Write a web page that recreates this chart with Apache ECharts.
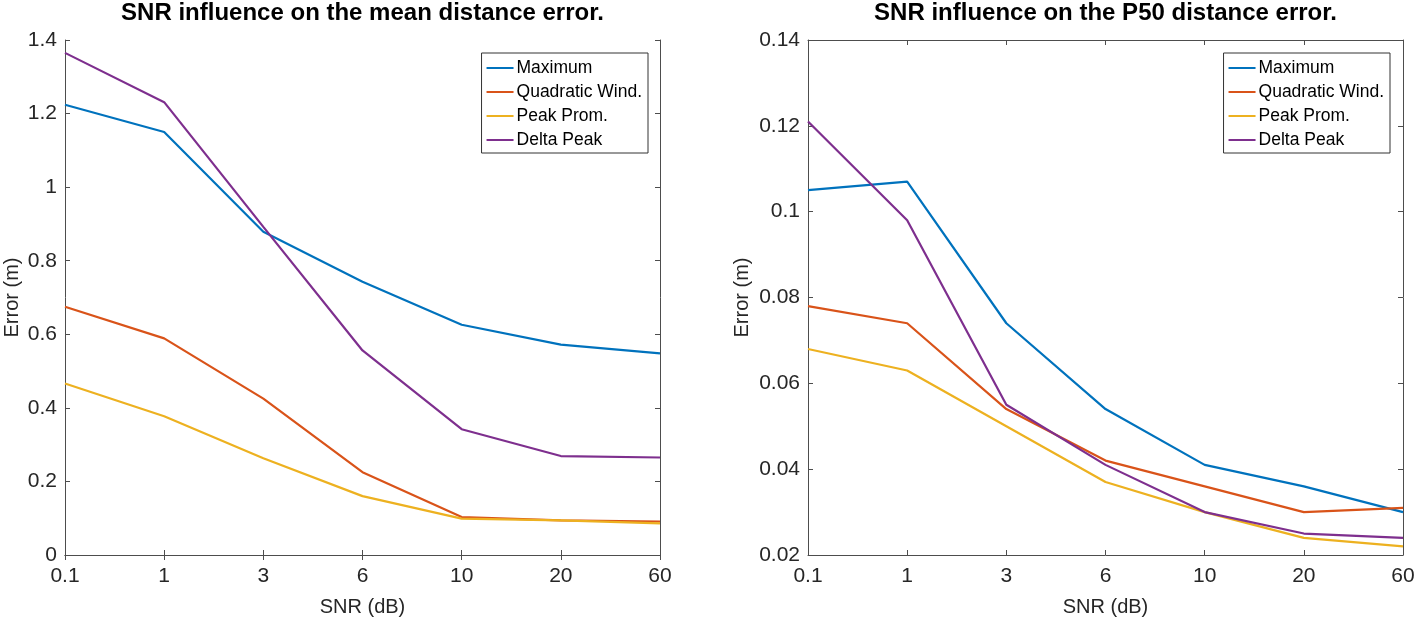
<!DOCTYPE html>
<html>
<head>
<meta charset="utf-8">
<script src="https://cdn.jsdelivr.net/npm/echarts@6/dist/echarts.min.js"></script>
<style>
html,body{margin:0;padding:0;background:#fff;}
#c{width:1415px;height:623px;}
</style>
</head>
<body>
<div id="c"></div>
<script>
const snrLabels = ['0.1', '1', '3', '6', '10', '20', '60'];
const seriesNames = ['Maximum', 'Quadratic Wind.', 'Peak Prom.', 'Delta Peak'];
const colors = ['#0072BD', '#D95319', '#EDB120', '#7E2F8E'];

// Mean distance error (m)
const meanMaximum   = [1.224, 1.150, 0.879, 0.743, 0.626, 0.572, 0.548];
const meanQuadratic = [0.675, 0.589, 0.425, 0.225, 0.103, 0.094, 0.091];
const meanPeakProm  = [0.466, 0.377, 0.263, 0.160, 0.099, 0.094, 0.086];
const meanDeltaPeak = [1.365, 1.231, 0.892, 0.556, 0.342, 0.269, 0.265];

// P50 distance error (m)
const p50Maximum   = [0.105, 0.107, 0.074, 0.054, 0.041, 0.036, 0.030];
const p50Quadratic = [0.078, 0.074, 0.054, 0.042, 0.036, 0.030, 0.031];
const p50PeakProm  = [0.068, 0.063, 0.050, 0.037, 0.030, 0.024, 0.022];
const p50DeltaPeak = [0.121, 0.098, 0.055, 0.041, 0.030, 0.025, 0.024];

const titles = ['SNR influence on the mean distance error.', 'SNR influence on the P50 distance error.'];
const xName = 'SNR (dB)';
const yName = 'Error (m)';

const FONT = '"Liberation Sans", Arial, Helvetica, sans-serif';
const AX = '#4d4d4d';

const grids = [
  {left: 65, right: 1415 - 660, top: 40, bottom: 623 - 555, outerBoundsMode: 'none', containLabel: false},
  {left: 808, right: 1415 - 1403, top: 40, bottom: 623 - 555, outerBoundsMode: 'none', containLabel: false}
];
const yRanges = [{min: 0, max: 1.4, interval: 0.2}, {min: 0.02, max: 0.14, interval: 0.02}];
const yNameGaps = [43, 56];

const chart = echarts.init(document.getElementById('c'), null, {renderer: 'canvas'});

const xAxes = [], yAxes = [], series = [], legends = [], titleArr = [];
const data = [
  [meanMaximum, meanQuadratic, meanPeakProm, meanDeltaPeak],
  [p50Maximum, p50Quadratic, p50PeakProm, p50DeltaPeak]
];
for (let g = 0; g < 2; g++) {
  const cx = (grids[g].left + (1415 - grids[g].right)) / 2;
  titleArr.push({
    text: titles[g], left: cx, top: 1, textAlign: 'center', padding: 0,
    textStyle: {fontFamily: FONT, fontWeight: 'bold', fontSize: 24, color: '#000'}
  });
  xAxes.push({
    type: 'category', gridIndex: g, data: snrLabels, boundaryGap: false, position: 'bottom',
    name: xName, nameLocation: 'middle', nameGap: 42,
    nameTextStyle: {fontFamily: FONT, fontSize: 20, color: '#262626'},
    axisLine: {lineStyle: {color: AX, width: 1}},
    axisTick: {inside: true, length: 5, alignWithLabel: true, lineStyle: {color: AX}},
    axisLabel: {fontFamily: FONT, fontSize: 21, color: '#262626', margin: 11},
    splitLine: {show: false}
  });
  xAxes.push({
    type: 'category', gridIndex: g, data: snrLabels, boundaryGap: false, position: 'top',
    axisLine: {lineStyle: {color: AX, width: 1}},
    axisTick: {inside: true, length: 5, lineStyle: {color: AX}},
    axisLabel: {show: false}, splitLine: {show: false}
  });
  yAxes.push({
    type: 'value', gridIndex: g, position: 'left', min: yRanges[g].min, max: yRanges[g].max, interval: yRanges[g].interval,
    name: yName, nameLocation: 'middle', nameGap: yNameGaps[g], nameRotate: 90,
    nameTextStyle: {fontFamily: FONT, fontSize: 20, color: '#262626'},
    axisLine: {show: true, lineStyle: {color: AX, width: 1}},
    axisTick: {show: true, inside: true, length: 5, lineStyle: {color: AX}},
    axisLabel: {fontFamily: FONT, fontSize: 21, color: '#262626', margin: 8},
    splitLine: {show: false}
  });
  yAxes.push({
    type: 'value', gridIndex: g, position: 'right', min: yRanges[g].min, max: yRanges[g].max, interval: yRanges[g].interval,
    axisLine: {show: true, lineStyle: {color: AX, width: 1}},
    axisTick: {show: true, inside: true, length: 5, lineStyle: {color: AX}},
    axisLabel: {show: false}, splitLine: {show: false}
  });
  for (let s = 0; s < 4; s++) {
    series.push({
      name: seriesNames[s], type: 'line', xAxisIndex: g * 2, yAxisIndex: g * 2,
      data: data[g][s], symbol: 'none', smooth: false,
      lineStyle: {color: colors[s], width: 2.2}, itemStyle: {color: colors[s]},
      z: 3
    });
  }
  const legRight = g === 0 ? 648 : 1390;
  legends.push({
    data: seriesNames, orient: 'vertical', right: 1415 - legRight, top: 53,
    icon: 'rect', itemWidth: 27, itemHeight: 2, itemGap: 6,
    backgroundColor: '#fff', borderColor: '#333', borderWidth: 1,
    padding: [6, 6, 4, 5], selectedMode: false,
    textStyle: {fontFamily: FONT, fontSize: 17.5, color: '#000', padding: [0, 0, 0, -2], lineHeight: 18}
  });
}

chart.setOption({
  animation: false,
  backgroundColor: '#fff',
  title: titleArr,
  grid: grids,
  xAxis: xAxes,
  yAxis: yAxes,
  legend: legends,
  series: series
});
</script>
</body>
</html>
